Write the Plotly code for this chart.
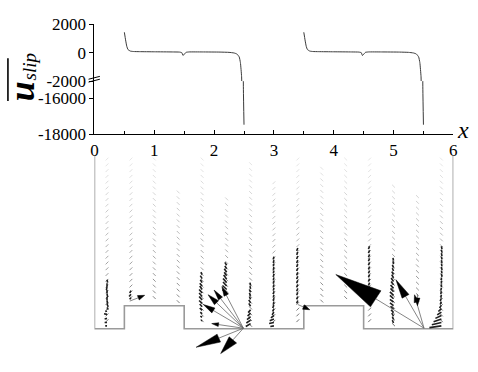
import numpy as np
import plotly.graph_objects as go

W, H = 478, 372

# ---------------- top panel: wall slip velocity ----------------
X_SLIP_1 = [0.50, 0.52, 0.54, 0.56, 0.60, 0.65, 0.75, 1.00, 1.30, 1.42, 1.46, 1.48, 1.50, 1.53, 1.58,
            1.80, 2.10, 2.25, 2.33, 2.38, 2.42, 2.44, 2.46, 2.47, 2.48, 2.49, 2.50]
U_SLIP_1 = [1430, 900, 450, 220, 110, 80, 70, 60, 50, 40, 0, -200, -120, 20, 50,
            50, 40, 20, -20, -90, -300, -700, -1700, -4000, -9000, -15500, -17470]
X_SLIP_2 = [3.50, 3.52, 3.54, 3.56, 3.60, 3.65, 3.75, 4.00, 4.30, 4.42, 4.46, 4.48, 4.50, 4.53, 4.58,
            4.80, 5.10, 5.25, 5.33, 5.38, 5.42, 5.44, 5.46, 5.47, 5.48, 5.49, 5.50]
U_SLIP_2 = [1430, 900, 450, 220, 110, 80, 70, 60, 50, 40, 0, -200, -120, 20, 50,
            50, 40, 20, -20, -90, -300, -700, -1700, -4000, -9000, -15500, -17470]

X_TICKS = [0, 1, 2, 3, 4, 5, 6]
Y_TICKS_UPPER = [2000, 0, -2000]
Y_TICKS_LOWER = [-16000, -18000]
Y_TICKTEXT_UPPER = ["2000", "0", "-2000"]
Y_TICKTEXT_LOWER = ["-16000", "-18000"]
Y_RANGE_UPPER = [-2000, 2000]
Y_RANGE_LOWER = [-18000, -15050]

# ---------------- bottom panel: geometry and velocity vectors ----------------
WALL_X = [0, 0, 0.5, 0.5, 1.5, 1.5, 3.5, 3.5, 4.5, 4.5, 6, 6]
WALL_Y = [3, 0, 0, 0.4, 0.4, 0, 0, 0.4, 0.4, 0, 0, 3]

COL_X   = [0.21, 0.61, 1.00, 1.40, 1.80, 2.21, 2.61, 3.00, 3.40, 3.80, 4.20, 4.60, 5.00, 5.40, 5.80]
COL_TOP = [2.94, 2.94, 2.94, 2.37, 2.94, 2.25, 2.86, 2.53, 2.94, 2.78, 2.94, 2.94, 2.47, 2.29, 2.94]
COL_BOT = [0.04, 0.45, 0.45, 0.45, 0.06, 0.55, 0.05, 0.05, 0.05, 0.45, 0.45, 0.07, 0.05, 0.45, 0.05]
COL_SYM = ["line-ne", "line-ne", "line-nw", "line-nw", "line-nw", "line-nw", "line-nw", "line-ne",
           "line-ne", "line-nw", "line-nw", "line-ne", "line-nw", "line-nw", "line-nw"]

# visible (dark) vectors near the walls, per column: tail y, u, v
C1_Y = [0.85, 0.79, 0.73, 0.67, 0.61, 0.55, 0.49, 0.43, 0.37, 0.31, 0.25, 0.18, 0.11, 0.05]
C1_U = [0.01, 0.00, -0.01, 0.00, 0.01, 0.00, 0.01, 0.02, 0.02, -0.03, -0.05, -0.04, -0.04, -0.03]
C1_V = [-0.05, -0.06, -0.06, -0.06, -0.06, -0.06, -0.06, -0.05, -0.04, -0.01, 0.01, -0.01, 0.00, 0.00]

C2_Y = [0.66, 0.60, 0.54]
C2_U = [-0.02, -0.03, -0.02]
C2_V = [-0.04, -0.04, -0.03]

C5_Y = [0.94, 0.87, 0.80, 0.74, 0.68, 0.62, 0.56, 0.50, 0.44, 0.38, 0.32, 0.26, 0.20, 0.14]
C5_U = [-0.02, -0.03, -0.03, -0.04, -0.04, -0.05, -0.05, -0.05, -0.05, -0.04, -0.04, -0.03, -0.03, -0.02]
C5_V = [0.04, 0.05, 0.05, 0.05, 0.06, 0.06, 0.06, 0.06, 0.05, 0.05, 0.04, 0.03, 0.02, 0.01]

C6_Y = [1.10, 1.04, 0.98, 0.92, 0.86, 0.80, 0.74, 0.68, 0.62]
C6_U = [-0.03, -0.03, -0.04, -0.04, -0.05, -0.06, -0.06, -0.07, -0.07]
C6_V = [0.05, 0.05, 0.06, 0.06, 0.07, 0.07, 0.07, 0.07, 0.06]

C7_Y = [0.75, 0.69, 0.63, 0.57, 0.51, 0.45, 0.39, 0.33, 0.27, 0.21, 0.15, 0.09]
C7_U = [-0.01, -0.01, -0.02, -0.02, -0.02, -0.03, -0.03, -0.04, -0.05, -0.06, -0.07, -0.08]
C7_V = [0.05, 0.05, 0.05, 0.05, 0.05, 0.05, 0.05, -0.05, -0.05, -0.05, -0.05, -0.05]

C8_Y = [1.25, 1.19, 1.13, 1.07, 1.01, 0.95, 0.89, 0.83, 0.77, 0.71, 0.65, 0.59, 0.53, 0.47, 0.41,
        0.35, 0.29, 0.23, 0.17, 0.11, 0.05]
C8_U = [-0.01, -0.01, -0.01, -0.01, -0.01, -0.01, -0.01, -0.01, -0.01, -0.01, -0.01, -0.01, -0.01,
        -0.01, -0.02, -0.02, -0.03, -0.05, -0.07, -0.08, -0.06]
C8_V = [-0.05, -0.05, -0.05, -0.05, -0.05, -0.05, -0.05, -0.05, -0.05, -0.05, -0.05, -0.05, -0.05,
        -0.05, -0.05, -0.05, -0.05, -0.04, -0.03, -0.02, -0.01]

C9_Y = [1.40, 1.33, 1.26, 1.19, 1.12, 1.05, 0.98, 0.91, 0.84, 0.77, 0.70, 0.63, 0.56, 0.49]
C9_U = [-0.02, -0.02, -0.02, -0.02, -0.02, -0.02, -0.02, -0.02, -0.02, -0.02, -0.02, -0.02, -0.02, -0.02]
C9_V = [-0.05, -0.05, -0.05, -0.05, -0.05, -0.05, -0.05, -0.05, -0.05, -0.05, -0.05, -0.05, -0.05, -0.05]

C12_Y = [1.43, 1.36, 1.29, 1.22, 1.15, 1.08, 1.01, 0.94, 0.87, 0.80, 0.73, 0.66]
C12_U = [-0.02, -0.02, -0.02, -0.02, -0.02, -0.02, -0.02, -0.02, -0.02, -0.02, -0.02, -0.02]
C12_V = [-0.05, -0.05, -0.05, -0.05, -0.05, -0.05, -0.05, -0.05, -0.05, -0.05, -0.05, -0.05]

C13_Y = [1.18, 1.12, 1.06, 1.00, 0.94, 0.88, 0.82, 0.76, 0.70, 0.64, 0.58, 0.52, 0.46, 0.40,
         0.34, 0.28, 0.22, 0.16, 0.10]
C13_U = [-0.01, -0.01, -0.02, -0.02, -0.03, -0.03, -0.04, -0.04, -0.05, -0.05, -0.06, -0.06, -0.06,
         -0.06, -0.05, -0.04, -0.03, -0.02, -0.02]
C13_V = [0.05, 0.05, 0.05, 0.05, 0.05, 0.06, 0.06, 0.06, 0.06, 0.06, 0.06, 0.06, 0.05, 0.05,
         0.05, 0.05, 0.05, 0.05, 0.05]

C15_Y = [1.43, 1.37, 1.31, 1.25, 1.19, 1.13, 1.07, 1.01, 0.95, 0.89, 0.83, 0.77, 0.71, 0.65,
         0.59, 0.53, 0.47, 0.41, 0.35, 0.29, 0.23, 0.17, 0.11, 0.05]
C15_U = [0.01, 0.01, 0.01, 0.01, 0.01, 0.01, 0.01, 0.01, 0.01, 0.00, 0.00, 0.00, -0.01, -0.01,
         -0.01, -0.02, -0.02, -0.03, -0.05, -0.07, -0.10, -0.13, -0.16, -0.20]
C15_V = [-0.05, -0.05, -0.05, -0.05, -0.05, -0.05, -0.05, -0.05, -0.05, -0.05, -0.05, -0.05,
         -0.05, -0.05, -0.05, -0.05, -0.05, -0.05, -0.05, -0.05, -0.05, -0.05, -0.04, -0.03]

DARK_COLS = [(0, C1_Y, C1_U, C1_V), (1, C2_Y, C2_U, C2_V), (4, C5_Y, C5_U, C5_V),
             (5, C6_Y, C6_U, C6_V), (6, C7_Y, C7_U, C7_V), (7, C8_Y, C8_U, C8_V),
             (8, C9_Y, C9_U, C9_V), (11, C12_Y, C12_U, C12_V), (12, C13_Y, C13_U, C13_V),
             (14, C15_Y, C15_U, C15_V)]

# large vectors (near the singular corners)
BIG_X = [2.49, 2.49, 2.49, 2.49, 2.49, 2.49, 2.49, 0.59, 3.40, 5.51, 5.51, 5.51, 5.40]
BIG_Y = [0.01, 0.01, 0.01, 0.01, 0.01, 0.01, 0.01, 0.48, 0.42, 0.01, 0.01, 0.01, 0.60]
BIG_U = [-0.79, -0.38, -0.67, -0.59, -0.49, -0.36, -0.53, 0.25, 0.20, -1.475, -0.47, -0.16, 0.00]
BIG_V = [-0.33, -0.44, 0.41, 0.58, 0.66, 0.72, 0.08, 0.10, -0.09, 0.93, 0.84, 0.58, -0.20]
# head sizes in pixels (style)
BIG_HEAD_L = [25, 19, 12, 12, 11, 10, 7, 7, 7, 48, 20, 8, 8]
BIG_HEAD_W = [9, 10, 6, 6, 5, 5, 4, 5, 5, 20, 8, 5, 5]

# ---------------- layout geometry (pixels -> paper) ----------------
PX_L, PX_R = 92, 457
PY_TOP, PY_BRK, PY_AX = 16, 76, 132
PX_PER_UNIT = (PX_R - PX_L) / 6.0
PY_ZERO = 337
PY_BOT_TOP = 150


def px(x):
    return x / W


def py(y):
    return 1 - y / H


fig = go.Figure()

for xs, us in [(X_SLIP_1, U_SLIP_1), (X_SLIP_2, U_SLIP_2)]:
    for ya in ["y", "y2"]:
        fig.add_trace(go.Scatter(x=xs, y=us, mode="lines", xaxis="x", yaxis=ya,
                                 line=dict(color="#3a3a3a", width=1, shape="spline",
                                           smoothing=0.4),
                                 showlegend=False, hoverinfo="skip"))

# walls
fig.add_trace(go.Scatter(x=WALL_X, y=WALL_Y, mode="lines", xaxis="x2", yaxis="y3",
                         line=dict(color="#9a9a9a", width=1.6), showlegend=False, hoverinfo="skip"))

# faint vector dots along the mesh columns
for i, cx in enumerate(COL_X):
    ys = np.arange(COL_TOP[i], COL_BOT[i], -0.1)
    cols = ["rgb({0},{0},{0})".format(int(232 - 125 * (1 - yy / 3.0) ** 1.3)) for yy in ys]
    fig.add_trace(go.Scatter(x=[cx] * len(ys), y=ys, mode="markers", xaxis="x2", yaxis="y3",
                             marker=dict(symbol=COL_SYM[i], size=2.8,
                                         line=dict(color=cols, width=1)),
                             showlegend=False, hoverinfo="skip"))

# dark short vectors
sx, sy = [], []
for ci, ys, us, vs in DARK_COLS:
    cx = COL_X[ci]
    for yy, uu, vv in zip(ys, us, vs):
        sx += [cx, cx + uu, None]
        sy += [yy, yy + vv, None]
fig.add_trace(go.Scatter(x=sx, y=sy, mode="lines", xaxis="x2", yaxis="y3",
                         line=dict(color="#1e1e1e", width=1.6), showlegend=False, hoverinfo="skip"))

# big arrows: shafts + filled heads
shx, shy, hx, hy = [], [], [], []
for x0, y0, u, v, hl, hw in zip(BIG_X, BIG_Y, BIG_U, BIG_V, BIG_HEAD_L, BIG_HEAD_W):
    L = np.hypot(u, v)
    ex, ey = u / L, v / L
    hl_u, hw_u = hl / PX_PER_UNIT, hw / PX_PER_UNIT
    tx, ty = x0 + u, y0 + v
    bx, by = tx - hl_u * ex, ty - hl_u * ey
    nx, ny = -ey, ex
    shx += [x0, bx, None]
    shy += [y0, by, None]
    hx += [tx, bx + nx * hw_u / 2, bx - nx * hw_u / 2, tx, None]
    hy += [ty, by + ny * hw_u / 2, by - ny * hw_u / 2, ty, None]
fig.add_trace(go.Scatter(x=shx, y=shy, mode="lines", xaxis="x2", yaxis="y3",
                         line=dict(color="#666666", width=0.8), showlegend=False, hoverinfo="skip"))
fig.add_trace(go.Scatter(x=hx, y=hy, mode="lines", fill="toself", fillcolor="black",
                         xaxis="x2", yaxis="y3", line=dict(color="black", width=0.5),
                         showlegend=False, hoverinfo="skip"))

tickfont = dict(family="Liberation Serif", size=17, color="black")
xdom = [px(PX_L), px(PX_R)]
bot_h_units = (H - PY_BOT_TOP) / PX_PER_UNIT
y3_lo = -(H - PY_ZERO) / PX_PER_UNIT

fig.update_layout(
    width=W, height=H, margin=dict(l=0, r=0, t=0, b=0),
    paper_bgcolor="white", plot_bgcolor="rgba(0,0,0,0)",
    xaxis=dict(domain=xdom, range=[0, 6], anchor="y2", tickvals=X_TICKS, ticks="inside",
               ticklen=4, tickwidth=1, tickcolor="black", showline=True, linecolor="black",
               linewidth=1, showgrid=False, zeroline=False, tickfont=tickfont,
               minor=dict(dtick=0.5, tick0=0, ticks="inside", ticklen=3, tickcolor="black",
                          showgrid=False)),
    yaxis=dict(domain=[py(PY_BRK), py(PY_TOP)], range=Y_RANGE_UPPER, anchor="x",
               tickvals=Y_TICKS_UPPER, ticktext=Y_TICKTEXT_UPPER, ticks="outside", ticklen=4,
               tickcolor="black", showline=True, linecolor="black", linewidth=1,
               showgrid=False, zeroline=False, tickfont=tickfont),
    yaxis2=dict(domain=[py(PY_AX), py(PY_BRK)], range=Y_RANGE_LOWER, anchor="x",
                tickvals=Y_TICKS_LOWER, ticktext=Y_TICKTEXT_LOWER, ticks="outside", ticklen=4,
                tickcolor="black", showline=True, linecolor="black", linewidth=1,
                showgrid=False, zeroline=False, tickfont=tickfont),
    xaxis2=dict(domain=xdom, range=[0, 6], anchor="y3", visible=False),
    yaxis3=dict(domain=[0, py(PY_BOT_TOP)], range=[y3_lo, y3_lo + bot_h_units],
                anchor="x2", visible=False),
)

# axis break marks
for dy in (0, 3):
    fig.add_shape(type="line", xref="paper", yref="paper",
                  x0=px(86), y0=py(75.5 + dy - 1.5), x1=px(97.5), y1=py(72.5 + dy - 1.5),
                  line=dict(color="black", width=1))

# y-axis label: overlined u with subscript slip
fig.add_shape(type="line", xref="paper", yref="paper", x0=px(4), x1=px(4),
              y0=py(52), y1=py(97), line=dict(color="black", width=1.6))
fig.add_annotation(xref="paper", yref="paper", x=px(18), y=py(87), text="<b><i>u</i></b>",
                   showarrow=False, textangle=-90, xanchor="center", yanchor="middle",
                   font=dict(family="Liberation Serif", size=36, color="black"))
fig.add_annotation(xref="paper", yref="paper", x=px(26), y=py(61), text="<i>slip</i>",
                   showarrow=False, textangle=-90, xanchor="center", yanchor="middle",
                   font=dict(family="Liberation Serif", size=19, color="black"))
# x label
fig.add_annotation(xref="paper", yref="paper", x=px(467), y=py(127), text="<i>x</i>",
                   showarrow=False, xanchor="center", yanchor="middle",
                   font=dict(family="Liberation Serif", size=24, color="black"))

fig.write_html("out.html")
